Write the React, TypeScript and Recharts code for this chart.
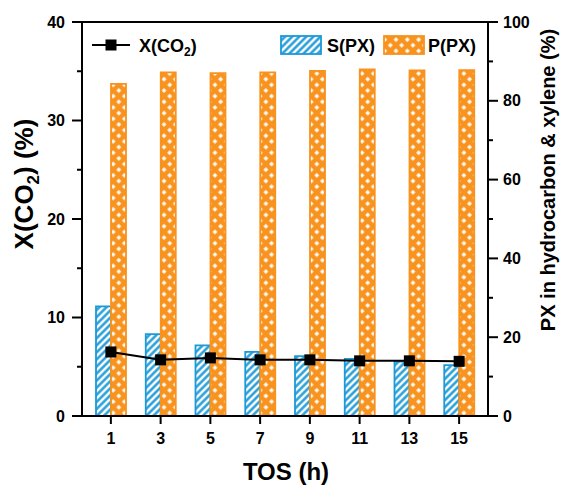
import React from "react";
import {
  Bar,
  ComposedChart,
  Line,
  ReferenceLine,
  XAxis,
  YAxis,
} from "recharts";

const tos = ["1", "3", "5", "7", "9", "11", "13", "15"];
const conversionCO2 = [6.5, 5.7, 5.9, 5.7, 5.7, 5.6, 5.6, 5.55];
const selectivityPX = [27.8, 20.8, 17.9, 16.3, 15.2, 14.5, 13.8, 12.9];
const purityPX = [84.3, 87.2, 87.0, 87.2, 87.6, 88.0, 87.7, 87.8];

const leftTicks = [0, 5, 10, 15, 20, 25, 30, 35, 40];
const rightTicks = [0, 10, 20, 30, 40, 50, 60, 70, 80, 90, 100];

const BLUE = "#1B9AD7";
const ORANGE = "#F7931E";
const FONT = "'Liberation Sans', Arial, sans-serif";

const data = tos.map((t, i) => ({
  tos: t,
  x: conversionCO2[i],
  s: selectivityPX[i],
  p: purityPX[i],
}));

// ticks draw their own outward marks: long for major, short for minor
const LeftTick = (props: any) => {
  const { x, y, payload } = props;
  const major = payload.value % 10 === 0;
  return (
    <g>
      <path d={`M${x},${y}h${major ? -10 : -5}`} stroke="#000" strokeWidth={2} fill="none" />
      {major && (
        <text x={x - 17} y={y} dy={5.5} textAnchor="end" fontFamily={FONT} fontWeight="bold" fontSize={16} fill="#000">
          {payload.value}
        </text>
      )}
    </g>
  );
};

const RightTick = (props: any) => {
  const { x, y, payload } = props;
  const major = payload.value % 20 === 0;
  return (
    <g>
      <path d={`M${x},${y}h${major ? 10 : 5}`} stroke="#000" strokeWidth={2} fill="none" />
      {major && (
        <text x={x + 15} y={y} dy={5.5} textAnchor="start" fontFamily={FONT} fontWeight="bold" fontSize={16} fill="#000">
          {payload.value}
        </text>
      )}
    </g>
  );
};

const BottomTick = (props: any) => {
  const { x, y, payload } = props;
  return (
    <g>
      <path d={`M${x},${y}v8`} stroke="#000" strokeWidth={2} fill="none" />
      <text x={x} y={y + 28} textAnchor="middle" fontFamily={FONT} fontWeight="bold" fontSize={16} fill="#000">
        {payload.value}
      </text>
    </g>
  );
};

const SquareDot = (props: any) => {
  const { cx, cy, index } = props;
  return <rect key={index} x={cx - 5.5} y={cy - 5.5} width={11} height={11} fill="#000" />;
};

const titleStyle = { fontFamily: FONT, fontWeight: "bold" as const, fill: "#000" };

export default function App() {
  return (
    <div style={{ position: "absolute", left: 0, top: 0, background: "#fff" }}>
      <ComposedChart
        width={563}
        height={487}
        data={data}
        margin={{ top: 22, right: 15, bottom: 31, left: 22 }}
        barGap={0}
        barSize={15}
      >
        <defs>
          <pattern id="hatchBlue" patternUnits="userSpaceOnUse" width="5" height="5" patternTransform="rotate(45)">
            <rect width="5" height="5" fill="#fff" />
            <line x1="2.5" y1="0" x2="2.5" y2="5" stroke={BLUE} strokeWidth="2.4" />
          </pattern>
          <pattern id="latticeOrange" patternUnits="userSpaceOnUse" width="8" height="8" patternTransform="rotate(45)">
            <rect width="8" height="8" fill={ORANGE} />
            <rect x="2.3" y="2.3" width="3.4" height="3.4" fill="#fff" />
          </pattern>
        </defs>

        <XAxis
          dataKey="tos"
          height={40}
          padding={{ left: 4, right: 4 }}
          axisLine={{ stroke: "#000", strokeWidth: 2 }}
          tickLine={false}
          tickSize={0}
          tickMargin={0}
          tick={<BottomTick />}
          interval={0}
        />
        <YAxis
          yAxisId="left"
          orientation="left"
          width={60}
          domain={[0, 40]}
          ticks={leftTicks}
          interval={0}
          axisLine={{ stroke: "#000", strokeWidth: 2 }}
          tickLine={false}
          tickSize={0}
          tickMargin={0}
          tick={<LeftTick />}
        />
        <YAxis
          yAxisId="right"
          orientation="right"
          width={60}
          domain={[0, 100]}
          ticks={rightTicks}
          interval={0}
          axisLine={{ stroke: "#000", strokeWidth: 2 }}
          tickLine={false}
          tickSize={0}
          tickMargin={0}
          tick={<RightTick />}
        />

        <ReferenceLine yAxisId="left" y={40} stroke="#000" strokeWidth={2} />

        <Bar yAxisId="right" dataKey="s" name="S(PX)" fill="url(#hatchBlue)" stroke={BLUE} strokeWidth={1.8} isAnimationActive={false} />
        <Bar yAxisId="right" dataKey="p" name="P(PX)" fill="url(#latticeOrange)" stroke={ORANGE} strokeWidth={1.8} isAnimationActive={false} />
        <Line
          yAxisId="left"
          dataKey="x"
          name="X(CO2)"
          type="linear"
          stroke="#000"
          strokeWidth={2}
          dot={<SquareDot />}
          activeDot={false}
          isAnimationActive={false}
        />

        {/* legend */}
        <g>
          <line x1={92} x2={130} y1={45} y2={45} stroke="#000" strokeWidth={2} />
          <rect x={105.5} y={39.5} width={11} height={11} fill="#000" />
          <text x={139} y={52} fontSize={18} {...titleStyle}>
            X(CO<tspan fontSize={12} dy={4}>2</tspan>
            <tspan dy={-4}>)</tspan>
          </text>
          <rect x={281} y={36} width={40} height={18} fill="url(#hatchBlue)" stroke={BLUE} strokeWidth={1.8} />
          <text x={327} y={52} fontSize={18} {...titleStyle}>S(PX)</text>
          <rect x={384} y={36} width={40} height={18} fill="url(#latticeOrange)" stroke={ORANGE} strokeWidth={1.8} />
          <text x={428} y={52} fontSize={18} {...titleStyle}>P(PX)</text>
        </g>

        {/* axis titles */}
        <text x={286} y={480} textAnchor="middle" fontSize={24} {...titleStyle}>TOS (h)</text>
        <text transform="translate(33,184) rotate(-90)" textAnchor="middle" fontSize={26} {...titleStyle}>
          X(CO<tspan fontSize={17} dy={6}>2</tspan>
          <tspan dy={-6}>) (%)</tspan>
        </text>
        <text transform="translate(555,180) rotate(-90)" textAnchor="middle" fontSize={20} {...titleStyle}>
          PX in hydrocarbon &amp; xylene (%)
        </text>
      </ComposedChart>
    </div>
  );
}
